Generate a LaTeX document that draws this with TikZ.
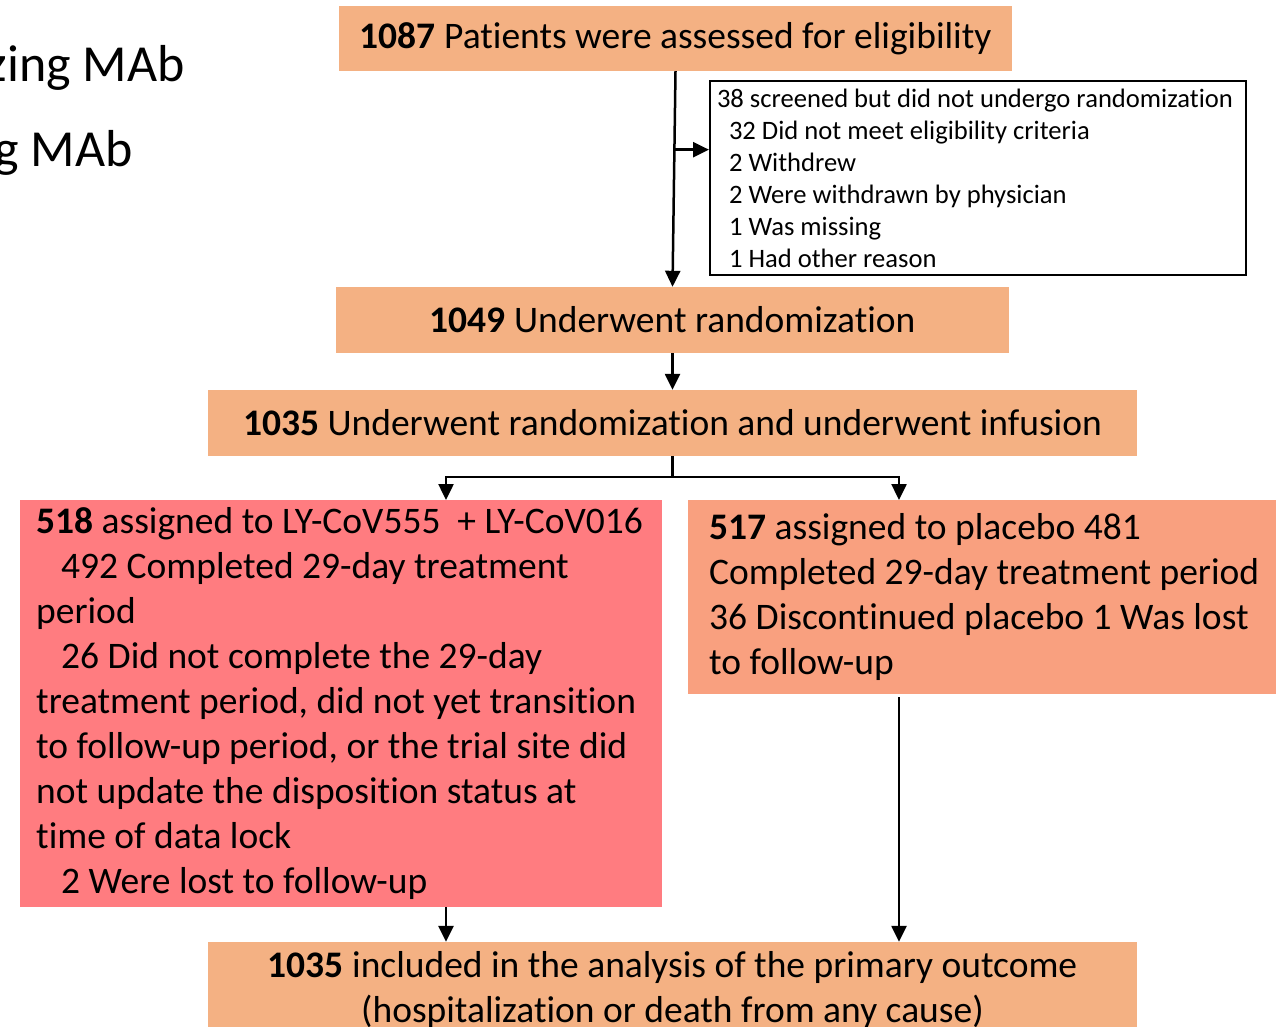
\documentclass[tikz,border=0pt]{standalone}
\usepackage{fontspec}
\setmainfont{Carlito}[Ligatures=NoCommon]
\usetikzlibrary{arrows.meta,calc}
\definecolor{peach}{HTML}{F4B183}
\definecolor{armred}{HTML}{FF7C80}
\definecolor{armsalmon}{HTML}{F9A07F}
\tikzset{
	box/.style={fill=peach,inner sep=0pt,align=center,font=\fontsize{37.5}{45}\selectfont},
	armbox/.style={inner ysep=0pt,align=flush left,font=\fontsize{37.5}{45}\selectfont},
	exclbox/.style={draw,line width=2pt,inner xsep=7pt,inner ysep=0pt,text width=522pt,minimum height=194pt,align=flush left,font=\fontsize{26.6}{32}\selectfont},
	arr/.style={line width=2.5pt,-{Triangle[length=16pt,width=15pt]}},
	side/.style={font=\fontsize{52}{60}\selectfont}
}
\begin{document}
\begin{tikzpicture}[x=1pt,y=-1pt]
	\clip (0,0) rectangle (1276,1027);
	
	%Side text (cut off at the edge)
	\node[side,anchor=base east,inner sep=0pt] at (185,82) (sideA) {zing MAb};
	\node[side,anchor=base east,inner sep=0pt] at (133,167) (sideB) {g MAb};
	
	%Screening
	\node[box,minimum width=673pt,minimum height=65pt] at (675.5,38.5) (assess) {\textbf{1087} Patients were assessed for eligibility};
	\node[exclbox,anchor=north west] at (709,80) (excl) {\mbox{38 screened but did not undergo randomization}\\
		\hspace*{12pt}32 Did not meet eligibility criteria\\
		\hspace*{12pt}2 Withdrew\\
		\hspace*{12pt}2 Were withdrawn by physician\\
		\hspace*{12pt}1 Was missing\\
		\hspace*{12pt}1 Had other reason};
	
	%Randomization
	\node[box,minimum width=673pt,minimum height=66pt] at (672.5,320) (rand) {\textbf{1049} Underwent randomization};
	\node[box,minimum width=929pt,minimum height=66pt] at (672.5,423) (infuse) {\textbf{1035} Underwent randomization and underwent infusion};
	
	%Arms
	\node[armbox,fill=armred,anchor=north west,inner xsep=16pt,text width=610pt,minimum height=407pt] at (20,500) (mab) {\mbox{\textbf{518} assigned to LY-CoV555~~+ LY-CoV016}\\
		\hspace*{25pt}492 Completed 29-day treatment\\
		period\\
		\hspace*{25pt}26 Did not complete the 29-day\\
		\mbox{treatment period, did not yet transition}\\
		\mbox{to follow-up period, or the trial site did}\\
		not update the disposition status at\\
		time of data lock\\
		\hspace*{25pt}2 Were lost to follow-up};
	\node[armbox,fill=armsalmon,anchor=north west,inner xsep=21pt,text width=560pt,minimum height=194pt] at (688,500) (placebo) {\textbf{517} assigned to placebo 481\\
		\mbox{Completed 29-day treatment period}\\
		\mbox{36 Discontinued placebo 1 Was lost}\\
		to follow-up};
	
	%Outcome
	\node[box,minimum width=929pt,minimum height=96pt] at (672.5,990) (result) {\textbf{1035} included in the analysis of the primary outcome\\
		(hospitalization or death from any cause)};
	
	%Arrows
	\coordinate (branch) at ($(assess.south)!0.364!(rand.north)$);
	\coordinate (fork) at (672.5,477);
	\coordinate (armL) at (446,500);
	\coordinate (armR) at (899,500);
	\draw[arr] (assess.south) -- (rand.north);
	\draw[arr] (branch) -- (branch -| excl.west);
	\draw[arr] (rand.south) -- (infuse.north);
	\draw[line width=2.5pt] (infuse.south) -- (fork);
	\draw[arr] (fork) -| (armL);
	\draw[arr] (fork) -| (armR);
	\draw[arr] (armL |- mab.south) -- (armL |- result.north);
	\draw[arr] ($(armR |- placebo.south)+(0,3)$) -- (armR |- result.north);
	
\end{tikzpicture}
\end{document}
